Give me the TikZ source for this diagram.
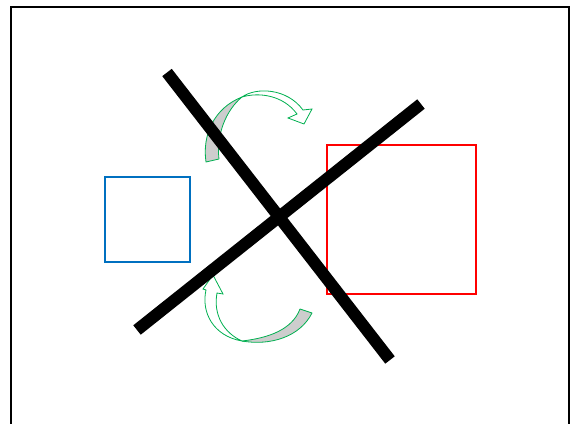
\documentclass[tikz,border=0pt]{standalone}
\begin{document}
\begin{tikzpicture}[x=1pt,y=-1pt,
  frame/.style={line width=2pt,draw=black},
  ribbonback/.style={draw=arrowgreen,line width=0.8pt,fill=backgray,line join=round},
  ribbonfront/.style={draw=arrowgreen,line width=0.8pt,fill=white,line join=miter},
  bar/.style={line width=12pt,draw=black,line cap=butt}]
\definecolor{arrowgreen}{HTML}{00B050}
\definecolor{backgray}{HTML}{CDCDCD}
\definecolor{boxblue}{HTML}{0070C0}
\definecolor{boxred}{HTML}{FF0000}
\useasboundingbox (0,0) rectangle (570,423);
% frame
\draw[frame] (11,430) -- (11,7) -- (569,7) -- (569,430);
% boxes
\node[draw=boxblue,line width=1.2pt,minimum width=85pt,minimum height=85pt,inner sep=0pt] (blue) at (147.5,219.5) {};
\node[draw=boxred,line width=1.2pt,minimum width=149pt,minimum height=149pt,inner sep=0pt] (red) at (401.5,219.5) {};
% top curved arrow
\draw[ribbonback] (206,162) .. controls (202,135) and (214,108) .. (242,97)
   .. controls (226,110) and (216,135) .. (219,159) -- cycle;
\draw[ribbonfront] (242,97) .. controls (256,87) and (287,88) .. (303,110)
   -- (312,109) -- (304,124) -- (288,118) -- (297,114)
   .. controls (283,95) and (259,92) .. (242,97) -- cycle;
% bottom curved arrow
\draw[ribbonback] (312,313) .. controls (300,337) and (270,346) .. (242,341)
   .. controls (268,338) and (292,330) .. (300,309) -- cycle;
\draw[ribbonfront] (242,341) .. controls (213,336) and (201,312) .. (206,290)
   -- (203,289) -- (213,275) -- (223,294) -- (217,293)
   .. controls (213,315) and (224,333) .. (242,341) -- cycle;
% crossing bars
\coordinate (a1) at (167,72.5);
\coordinate (a2) at (390,360);
\coordinate (b1) at (137,330);
\coordinate (b2) at (421,104);
\draw[bar] (a1) -- (a2);
\draw[bar] (b1) -- (b2);
\end{tikzpicture}
\end{document}
